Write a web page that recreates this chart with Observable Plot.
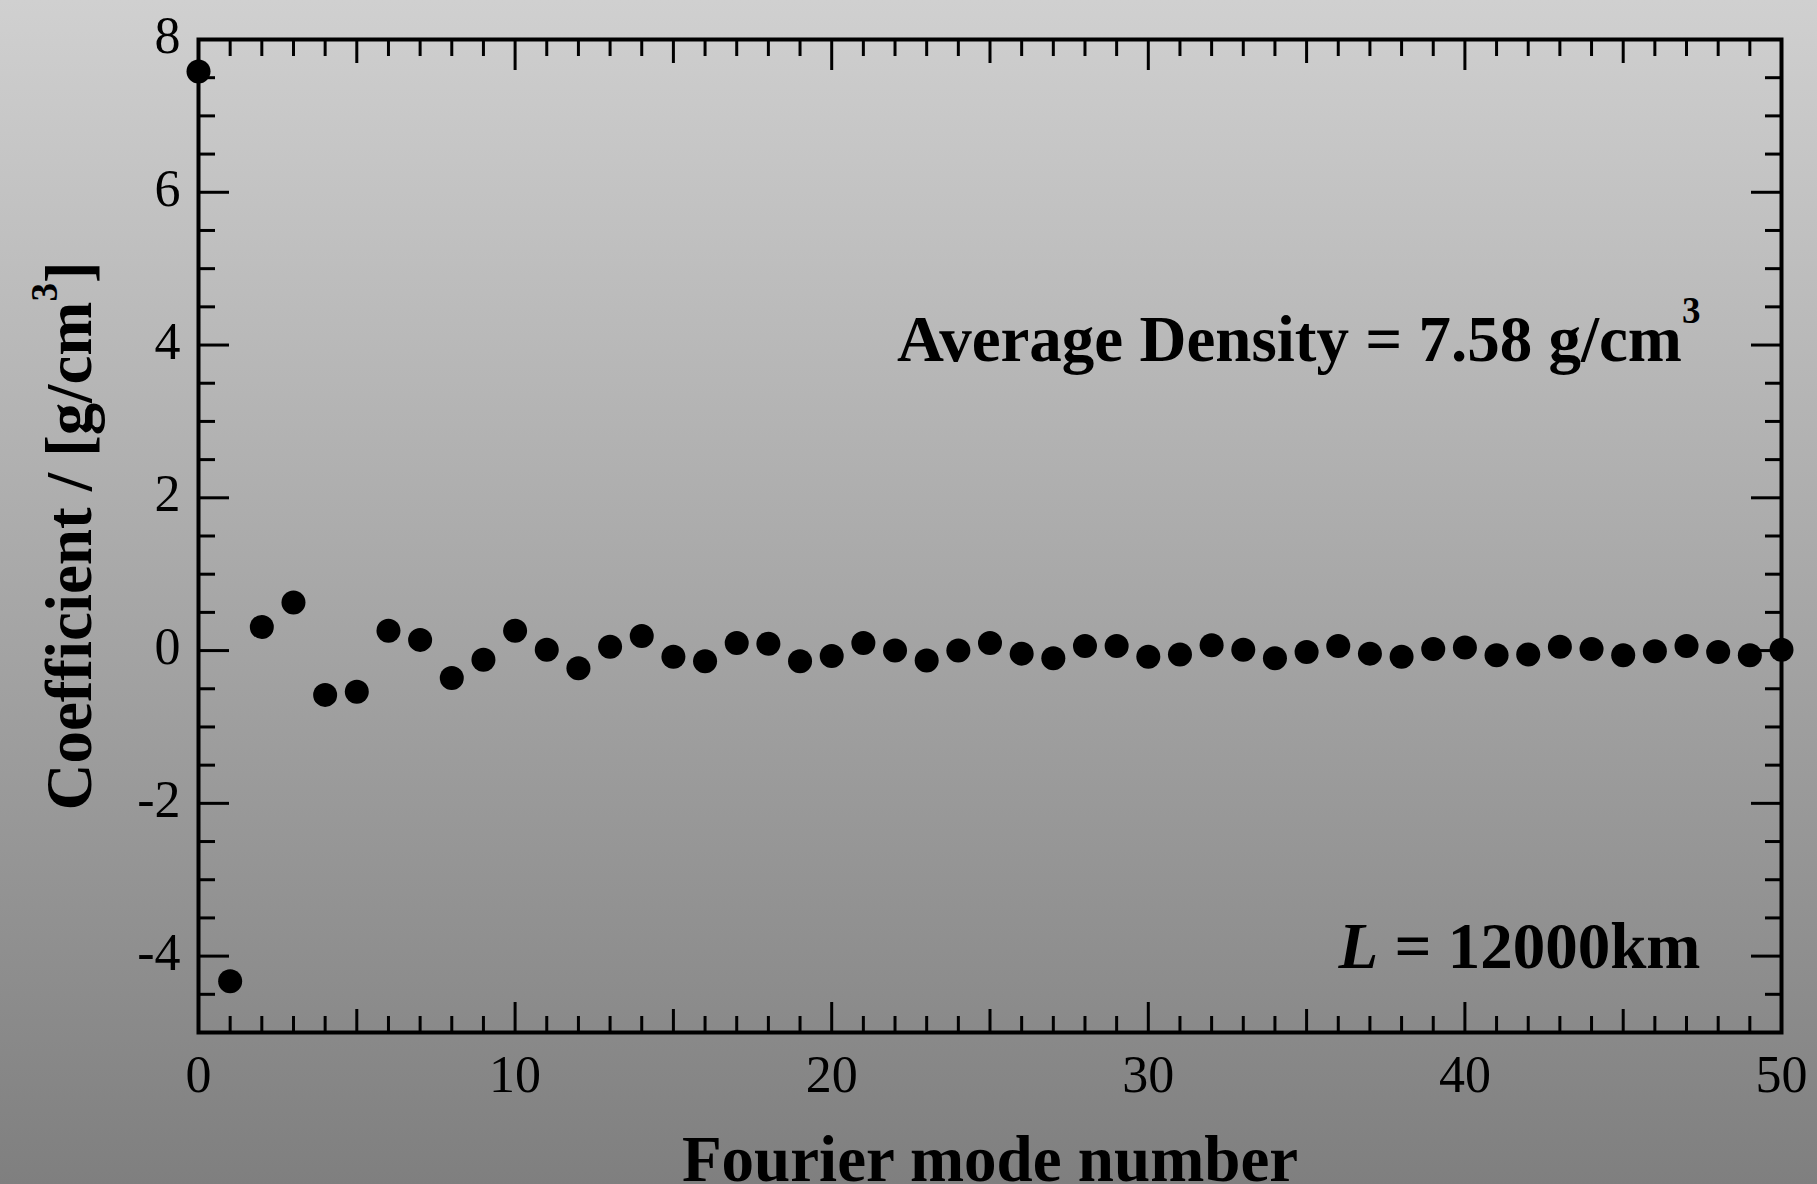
<!DOCTYPE html>
<html>
<head>
<meta charset="utf-8">
<script src="https://cdn.jsdelivr.net/npm/d3@7"></script>
<script src="https://cdn.jsdelivr.net/npm/@observablehq/plot@0.6"></script>
<style>
  html, body { margin: 0; padding: 0; }
  #chart {
    width: 1817px;
    height: 1184px;
    background: linear-gradient(to bottom, #d0d0d0 0%, #7f7f7f 100%);
  }
  #chart svg { display: block; }
</style>
</head>
<body>
<div id="chart"></div>
<script>
// Fourier mode numbers and their density coefficients [g/cm^3]
const modes = [
  0, 1, 2, 3, 4, 5, 6, 7, 8, 9,
  10, 11, 12, 13, 14, 15, 16, 17, 18, 19,
  20, 21, 22, 23, 24, 25, 26, 27, 28, 29,
  30, 31, 32, 33, 34, 35, 36, 37, 38, 39,
  40, 41, 42, 43, 44, 45, 46, 47, 48, 49,
  50
];
const coefficients = [
  7.58, -4.33, 0.31, 0.63, -0.58, -0.54, 0.26, 0.14, -0.36, -0.12,
  0.26, 0.01, -0.23, 0.05, 0.19, -0.08, -0.14, 0.10, 0.09, -0.14,
  -0.07, 0.10, 0.00, -0.13, 0.00, 0.10, -0.04, -0.10, 0.06, 0.06,
  -0.08, -0.05, 0.07, 0.01, -0.10, -0.02, 0.06, -0.04, -0.08, 0.02,
  0.04, -0.06, -0.05, 0.05, 0.02, -0.06, -0.01, 0.06, -0.02, -0.06,
  0.01
];

// Axis extents and labelled ticks
const xDomain = [0, 50];
const yDomain = [-5, 8];
const xLabelTicks = [0, 10, 20, 30, 40, 50];
const yLabelTicks = [-4, -2, 0, 2, 4, 6, 8];

// Texts
const xTitle = "Fourier mode number";
const yTitle = "Coefficient / [g/cm³]";
const averageDensity = coefficients[0];
const densityNote = `Average Density = ${averageDensity} g/cm³`;
const lengthSymbol = "L";
const lengthValue = " = 12000km";

const data = modes.map((mode, i) => ({mode, coefficient: coefficients[i]}));

// Tick positions: minor, medium and major marks drawn inward on all four sides
const xMinor = d3.range(1, 50).filter(d => d % 5 !== 0);
const xMedium = d3.range(5, 50, 10);
const xMajor = d3.range(10, 50, 10);
const yMinor = d3.range(-4.5, 8, 0.5).filter(d => d % 2 !== 0);
const yMajor = d3.range(-4, 8, 2);

const tickStyle = {fill: "none", label: null, stroke: "black", strokeWidth: 3};
const xTicks = (values, size) =>
  ["bottom", "top"].map(anchor => Plot.axisX(values, {anchor, tickSize: -size, ...tickStyle}));
const yTicks = (values, size) =>
  ["left", "right"].map(anchor => Plot.axisY(values, {anchor, tickSize: -size, ...tickStyle}));

const fmt = d => String(d);

const svg = Plot.plot({
  width: 1817,
  height: 1184,
  marginLeft: 198,
  marginRight: 36,
  marginTop: 39,
  marginBottom: 152,
  style: {background: "transparent", color: "black", fontFamily: "'Liberation Serif', 'Times New Roman', serif", overflow: "visible"},
  x: {domain: xDomain, label: null},
  y: {domain: yDomain, label: null},
  marks: [
    ...xTicks(xMinor, 16),
    ...xTicks(xMedium, 23),
    ...xTicks(xMajor, 30),
    ...yTicks(yMinor, 17),
    ...yTicks(yMajor, 31),
    Plot.frame({stroke: "black", strokeWidth: 4}),
    Plot.axisX(xLabelTicks, {anchor: "bottom", tickSize: 0, tickPadding: 23, fontSize: 52, tickFormat: fmt, label: null}),
    Plot.axisY(yLabelTicks, {anchor: "left", tickSize: 0, tickPadding: 18, fontSize: 52, tickFormat: fmt, dy: -3, label: null}),
    Plot.dot(data, {x: "mode", y: "coefficient", r: 12, fill: "black", stroke: null}),
    Plot.text([xTitle], {text: d => d, frameAnchor: "bottom", lineAnchor: "bottom", dy: 148, fontSize: 65, fontWeight: "bold"}),
    Plot.text([yTitle], {text: d => d, frameAnchor: "left", textAnchor: "middle", rotate: -90, lineAnchor: "bottom", dx: -108, fontSize: 65, fontWeight: "bold"}),
    Plot.text([densityNote], {text: d => d, frameAnchor: "top-right", textAnchor: "end", lineAnchor: "bottom", dx: -81, dy: 321, fontSize: 65, fontWeight: "bold"}),
    Plot.text([lengthSymbol + lengthValue], {text: d => d, frameAnchor: "bottom-right", textAnchor: "end", lineAnchor: "bottom", dx: -81, dy: -65, fontSize: 65, fontWeight: "bold"})
  ]
});

// Typeset the cubic exponent as a raised superscript and italicise the length symbol
d3.select(svg).selectAll("text").each(function () {
  const t = this.textContent;
  const sel = d3.select(this);
  if (t.includes("³")) {
    const [before, after] = t.split("³");
    const rise = after ? 34 : 38;
    sel.text(null).style("white-space", "pre");
    sel.append("tspan").text(before);
    sel.append("tspan").attr("dy", -rise).attr("font-size", 37).text("3");
    if (after) sel.append("tspan").attr("dy", rise).text(after);
  } else if (t === lengthSymbol + lengthValue) {
    sel.text(null).style("white-space", "pre");
    sel.append("tspan").attr("font-style", "italic").text(lengthSymbol);
    sel.append("tspan").text(lengthValue);
  }
});

document.getElementById("chart").append(svg);
</script>
</body>
</html>
